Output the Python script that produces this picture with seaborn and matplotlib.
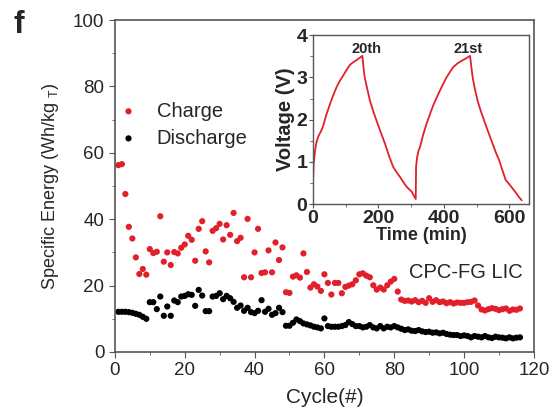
import numpy as np
import pandas as pd
import matplotlib
matplotlib.use("Agg")
import matplotlib.pyplot as plt
import seaborn as sns
from matplotlib.ticker import MultipleLocator

# --- data ---
charge = [56.3, 56.6, 47.6, 37.7, 34.2, 28.5, 23.5, 25.0, 23.3, 31.0,
          29.8, 30.2, 40.9, 27.2, 30.0, 26.2, 30.1, 29.7, 31.4, 32.4,
          35.0, 33.8, 27.5, 37.1, 39.4, 30.3, 27.0, 36.5, 37.3, 38.6,
          33.9, 38.2, 35.3, 41.9, 33.4, 34.4, 22.5, 40.1, 22.5, 30.0,
          37.1, 23.8, 24.0, 30.6, 24.0, 33.0, 27.7, 31.5, 18.0, 17.8,
          22.7, 23.1, 22.4, 29.7, 24.1, 19.4, 20.4, 19.7, 18.4, 23.4,
          20.8, 17.3, 20.8, 20.8, 17.7, 19.6, 20.0, 20.4, 21.6, 23.4,
          23.7, 23.0, 22.5, 20.1, 18.8, 19.4, 18.8, 20.1, 21.2, 22.0,
          18.2, 15.8, 15.4, 15.5, 15.2, 15.6, 15.0, 15.4, 14.8, 16.2,
          15.1, 15.6, 15.0, 15.2, 14.7, 15.0, 14.6, 14.9, 14.8, 14.8,
          15.0, 15.1, 15.5, 14.0, 12.8, 12.5, 12.9, 13.2, 13.0, 12.6,
          12.9, 13.1, 12.4, 12.8, 12.7, 13.1]
discharge = [12.1, 12.1, 12.1, 12.0, 11.8, 11.5, 11.2, 10.6, 10.0, 15.0,
             15.0, 12.9, 16.7, 10.9, 13.7, 10.9, 15.5, 15.0, 16.7, 16.9,
             17.4, 17.2, 13.9, 18.7, 17.0, 12.3, 12.3, 16.7, 16.9, 17.7,
             15.9, 16.9, 16.2, 15.1, 13.3, 14.0, 12.4, 13.3, 12.0, 11.7,
             12.4, 15.6, 12.1, 13.0, 11.2, 11.7, 13.3, 12.0, 7.9, 7.9,
             8.8, 9.8, 9.3, 8.6, 8.3, 8.0, 7.6, 7.4, 7.1, 10.1,
             7.8, 7.6, 7.6, 7.6, 7.8, 8.1, 9.0, 8.4, 7.8, 7.8,
             7.4, 7.6, 8.1, 7.4, 7.1, 7.8, 7.1, 7.6, 7.4, 7.8,
             7.4, 7.0, 6.6, 6.8, 6.4, 6.3, 6.6, 6.2, 6.0, 6.1,
             5.8, 5.9, 5.6, 5.8, 5.4, 5.2, 5.1, 5.1, 4.8, 5.0,
             4.8, 4.4, 4.8, 4.6, 4.4, 4.8, 4.4, 4.2, 4.6, 4.4,
             4.3, 4.1, 4.4, 4.1, 4.3, 4.4]
cycles = list(range(1, len(charge) + 1))

# inset: voltage profile of cycles 20 and 21
time_min = [0, 2, 6, 10, 16, 24, 31, 40, 52, 62, 72, 82, 92, 102, 113, 123, 133, 142, 151,
            154, 158, 166, 174, 184, 194, 207, 220, 232, 245, 256, 266, 276, 286, 294, 302, 308, 314,
            315, 318, 322, 327, 337, 347, 357, 367, 378, 388, 398, 408, 418, 428, 443, 458, 470, 480,
            484, 488, 495, 503, 513, 523, 536, 549, 559, 569, 579, 589, 600, 610, 620, 630, 638]
voltage = [0.53, 0.95, 1.25, 1.45, 1.60, 1.72, 1.85, 2.10, 2.37, 2.58, 2.77, 2.92, 3.04, 3.17, 3.30, 3.36, 3.41, 3.46, 3.51,
           3.25, 3.00, 2.72, 2.45, 2.20, 1.98, 1.70, 1.43, 1.15, 0.88, 0.75, 0.64, 0.52, 0.41, 0.35, 0.29, 0.20, 0.12,
           0.88, 1.10, 1.25, 1.35, 1.65, 1.90, 2.12, 2.33, 2.52, 2.69, 2.85, 3.00, 3.12, 3.24, 3.34, 3.41, 3.46, 3.51,
           3.25, 3.00, 2.72, 2.45, 2.20, 1.98, 1.70, 1.43, 1.22, 1.04, 0.80, 0.57, 0.47, 0.37, 0.27, 0.16, 0.09]

df = pd.DataFrame({"cycle": cycles, "Charge": charge, "Discharge": discharge})
vdf = pd.DataFrame({"t": time_min, "V": voltage})

RED = "#e2202c"
GRAY = "#555555"

sns.set_style("ticks")
plt.rcParams['font.family'] = ['Liberation Sans', 'DejaVu Sans']
plt.rcParams['mathtext.fontset'] = 'custom'
plt.rcParams['mathtext.rm'] = 'Liberation Sans'

fig = plt.figure(figsize=(5.55, 4.19), dpi=100)
ax = fig.add_axes([0.207, 0.160, 0.755, 0.792])

sns.scatterplot(data=df, x="cycle", y="Charge", color=RED, s=20,
                edgecolor="none", label="Charge", ax=ax)
sns.scatterplot(data=df, x="cycle", y="Discharge", color="black", s=20,
                edgecolor="none", label="Discharge", ax=ax)

ax.set_xlim(0, 120)
ax.set_ylim(0, 100)
ax.xaxis.set_major_locator(MultipleLocator(20))
ax.xaxis.set_minor_locator(MultipleLocator(10))
ax.yaxis.set_major_locator(MultipleLocator(20))
ax.yaxis.set_minor_locator(MultipleLocator(10))
ax.tick_params(which="both", direction="out", color=GRAY, labelsize=13.5)
ax.tick_params(which="major", length=4)
ax.tick_params(which="minor", length=2.5)
for s in ax.spines.values():
    s.set_color(GRAY)
    s.set_linewidth(1.2)
ax.set_xlabel("Cycle(#)", fontsize=15, labelpad=6)
ax.set_ylabel("Specific Energy (Wh/kg $_{\\mathrm{T}}$)", fontsize=13, labelpad=9)

ax.legend(loc="center left", bbox_to_anchor=(-0.03, 0.685), frameon=False,
          fontsize=14.5, handlelength=0.8, handletextpad=1.0,
          labelspacing=0.4, markerscale=1.0)
ax.text(0.838, 0.238, "CPC-FG LIC", transform=ax.transAxes, ha="center",
        va="center", fontsize=14.5)
fig.text(0.024, 0.975, "f", fontsize=23, fontweight="bold", va="top")

# --- inset ---
ins = fig.add_axes([0.564, 0.513, 0.389, 0.403])
sns.lineplot(data=vdf, x="t", y="V", color=RED, lw=1.3, sort=False,
             estimator=None, ax=ins)
ins.set_xlim(0, 660)
ins.set_ylim(0, 4)
ins.xaxis.set_major_locator(MultipleLocator(200))
ins.xaxis.set_minor_locator(MultipleLocator(100))
ins.yaxis.set_major_locator(MultipleLocator(1))
ins.yaxis.set_minor_locator(MultipleLocator(0.5))
ins.tick_params(which="both", direction="out", color=GRAY, labelsize=14, pad=1)
ins.tick_params(which="major", length=3)
ins.tick_params(which="minor", length=2)
for lab in ins.get_xticklabels() + ins.get_yticklabels():
    lab.set_fontweight("bold")
for s in ins.spines.values():
    s.set_color(GRAY)
    s.set_linewidth(1.0)
ins.set_xlabel("Time (min)", fontsize=13, fontweight="bold", labelpad=0)
ins.set_ylabel("Voltage (V)", fontsize=14.5, fontweight="bold", labelpad=1)
ins.text(163, 3.67, "20th", ha="center", va="center", fontsize=10.5, fontweight="bold")
ins.text(473, 3.67, "21st", ha="center", va="center", fontsize=10.5, fontweight="bold")

fig.savefig("out.png", dpi=100)
